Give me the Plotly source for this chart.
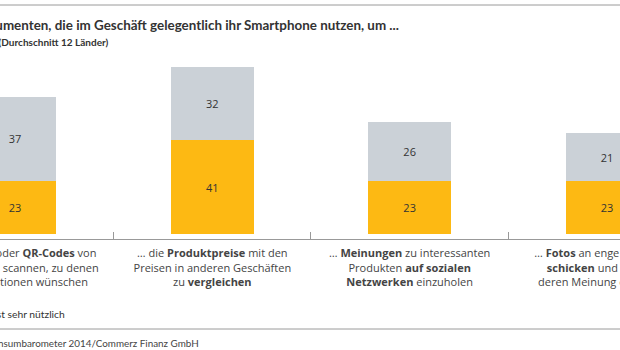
import plotly.graph_objects as go

categories = [
    "… Barcodes oder <b>QR-Codes</b> von<br>Produkten zu scannen, zu denen<br>sie Informationen wünschen",
    "… die <b>Produktpreise</b> mit den<br>Preisen in anderen Geschäften<br>zu <b>vergleichen</b>",
    "… <b>Meinungen</b> zu interessanten<br>Produkten <b>auf sozialen<br>Netzwerken</b> einzuholen",
    "… <b>Fotos</b> an enge Freunde zu<br><b>schicken</b> und ihre bzw.<br>deren Meinung einzuholen",
]
sehr_nuetzlich = [23, 41, 23, 23]
eher_nuetzlich = [37, 32, 26, 21]

title_text = "<b>Anteil der Konsumenten, die im Geschäft gelegentlich ihr Smartphone nutzen, um ...</b>"
subtitle_text = "<b>In % (Durchschnitt 12 Länder)</b>"
legend_text = "Ist sehr nützlich"
source_text = "Quelle: Konsumbarometer 2014/Commerz Finanz GmbH"

YELLOW = "#FDB913"
GREY = "#CBD1D7"
FONT = "Open Sans"
FONT2 = "Lato"

W, H = 620, 350
PLOT_TOP, PLOT_BOTTOM = 60, 239
PH = PLOT_BOTTOM - PLOT_TOP

def py(pixel_y):
    return (PLOT_BOTTOM - pixel_y) / PH

def px(pixel_x):
    return pixel_x / W

fig = go.Figure()
fig.add_trace(go.Bar(x=categories, y=sehr_nuetzlich, marker_color=YELLOW, width=0.42,
                     text=sehr_nuetzlich, textposition="inside", insidetextanchor="middle",
                     textfont=dict(size=11, color="#333333", family=FONT),
                     marker_line_width=0, name="Ist sehr nützlich"))
fig.add_trace(go.Bar(x=categories, y=eher_nuetzlich, marker_color=GREY, width=0.42,
                     text=eher_nuetzlich, textposition="inside", insidetextanchor="middle",
                     textfont=dict(size=11, color="#333333", family=FONT),
                     marker_line_width=0, name="Ist eher nützlich"))

fig.update_layout(
    barmode="stack",
    width=W, height=H,
    margin=dict(l=0, r=0, t=PLOT_TOP, b=H - PLOT_BOTTOM, autoexpand=False),
    paper_bgcolor="white", plot_bgcolor="white",
    showlegend=False,
    font=dict(family=FONT, color="#333333"),
)
fig.update_xaxes(
    type="category", range=[-0.076, 3.066],
    tickson="boundaries", ticks="inside", ticklen=7, tickcolor="#999999", tickwidth=1,
    showline=True, linecolor="#999999", linewidth=1,
    showgrid=False, zeroline=False,
    tickfont=dict(size=11, color="#444444", family=FONT),
    ticklabelstandoff=4,
)
fig.update_yaxes(range=[-2.19, 76.0], visible=False, showgrid=False, zeroline=False)

shapes = [
    dict(type="line", xref="paper", yref="paper", x0=0, x1=1, y0=py(5), y1=py(5),
         line=dict(color="#9a9a9a", width=1)),
    dict(type="line", xref="paper", yref="paper", x0=0, x1=1, y0=py(329), y1=py(329),
         line=dict(color="#9a9a9a", width=1)),
]
fig.update_layout(shapes=shapes)

annots = [
    dict(text=title_text, x=px(401), y=py(25), xanchor="right", yanchor="middle",
         font=dict(size=13.4, color="#333333", family=FONT2)),
    dict(text=subtitle_text, x=px(111), y=py(42), xanchor="right", yanchor="middle",
         font=dict(size=10, color="#333333", family=FONT2)),
    dict(text=legend_text, x=px(67), y=py(314), xanchor="right", yanchor="middle",
         font=dict(size=10.3, color="#333333", family=FONT2)),
    dict(text=source_text, x=px(201), y=py(343), xanchor="right", yanchor="middle",
         font=dict(size=9.85, color="#444444", family=FONT2)),
]
for a in annots:
    a.update(xref="paper", yref="paper", showarrow=False)
fig.update_layout(annotations=annots)

fig.write_html("out.html")
